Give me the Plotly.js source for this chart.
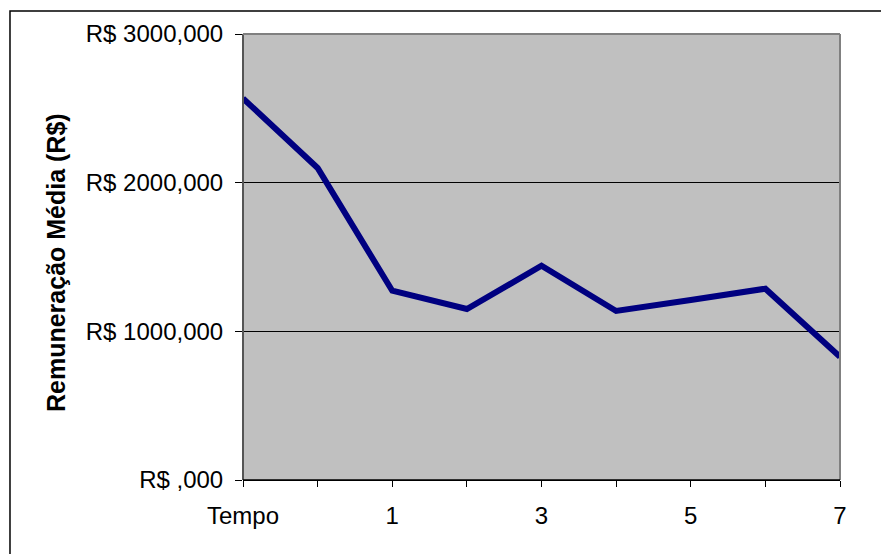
<!DOCTYPE html>
<html>
<head>
<meta charset="utf-8">
<script src="https://cdn.plot.ly/plotly-3.0.1.min.js"></script>
<style>html,body{margin:0;padding:0;background:#fff;}</style>
</head>
<body>
<div id="chart" style="width:881px;height:554px;"></div>
<script>
const categories = ['Tempo', '0', '1', '2', '3', '4', '5', '6', '7'];
const tickLabels = ['Tempo', '', '1', '', '3', '', '5', '', '7'];
const remuneracao = [2567, 2099, 1273, 1150, 1441, 1137, 1211, 1287, 829];
const yTickValues = [0, 1000, 2000, 3000];
const yTickLabels = ['R$ ,000', 'R$ 1000,000', 'R$ 2000,000', 'R$ 3000,000'];

const idx = categories.map((c, i) => i);

const trace = {
  x: idx,
  y: remuneracao,
  type: 'scatter',
  mode: 'lines',
  line: {color: '#000080', width: 6},
  hoverinfo: 'skip'
};

const layout = {
  width: 881,
  height: 554,
  margin: {l: 243, r: 41, t: 34, b: 74},
  paper_bgcolor: '#ffffff',
  plot_bgcolor: '#c0c0c0',
  showlegend: false,
  font: {family: 'Liberation Sans, Arial, sans-serif', color: '#000', size: 24},
  xaxis: {
    range: [0, categories.length - 1],
    tickvals: idx,
    ticktext: tickLabels,
    ticks: 'outside',
    ticklen: 6,
    tickcolor: '#000',
    tickwidth: 1,
    showgrid: false,
    zeroline: false,
    showline: true,
    linecolor: '#000',
    linewidth: 1,
    ticklabelstandoff: 8,
    tickfont: {size: 24}
  },
  yaxis: {
    range: [0, 3000],
    tickvals: yTickValues,
    ticktext: yTickLabels,
    ticks: 'outside',
    ticklen: 7,
    tickcolor: '#000',
    tickwidth: 1,
    showgrid: true,
    gridcolor: '#000',
    gridwidth: 1,
    zeroline: false,
    showline: false,
    ticklabelstandoff: 7,
    tickfont: {size: 24}
  },
  shapes: [
    {type: 'line', xref: 'paper', yref: 'paper', x0: 0, x1: 0, y0: 0, y1: 1,
     line: {color: '#555', width: 2}},
    {type: 'line', xref: 'paper', yref: 'paper', x0: 0, x1: 1, y0: 1, y1: 1,
     line: {color: '#808080', width: 2}},
    {type: 'line', xref: 'paper', yref: 'paper', x0: 1, x1: 1, y0: 0, y1: 1,
     line: {color: '#808080', width: 2}},
    {type: 'line', xref: 'paper', yref: 'paper', x0: 0, x1: 1, y0: 0, y1: 0,
     line: {color: '#000', width: 1.5}},
    {type: 'rect', xref: 'paper', yref: 'paper', x0: -0.3903, x1: 1.3, y0: -0.4, y1: 1.0516,
     line: {color: '#000', width: 1.5}, fillcolor: 'rgba(0,0,0,0)', layer: 'above'}
  ],
  annotations: [
    {text: '<b>Remuneração Média (R$)</b>', textangle: -90, xref: 'paper', yref: 'paper',
     x: -0.3132, y: 0.4865, xanchor: 'center', yanchor: 'middle', showarrow: false,
     font: {size: 25, color: '#000'}}
  ]
};

Plotly.newPlot('chart', [trace], layout, {displayModeBar: false, staticPlot: true});
</script>
</body>
</html>
